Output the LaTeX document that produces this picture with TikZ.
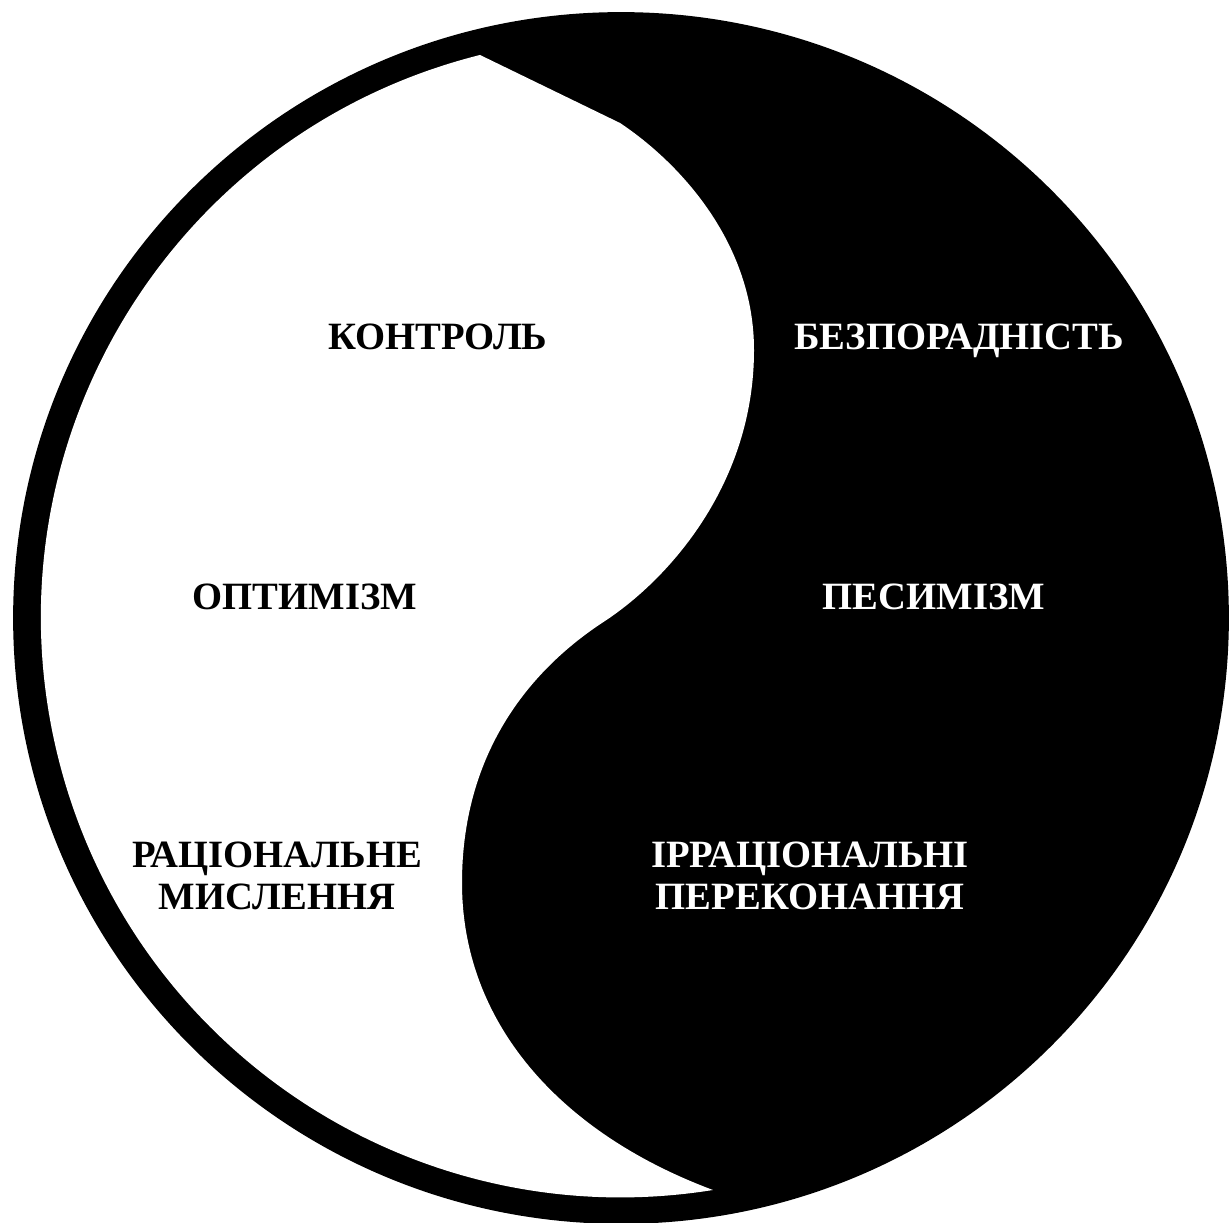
\documentclass[tikz,border=0pt]{standalone}
\usepackage{fontspec}
\setmainfont{Liberation Serif}

\tikzset{
  darklabel/.style={text=black,font=\bfseries\fontsize{22}{24}\selectfont,align=center,anchor=base,inner sep=0pt},
  lightlabel/.style={darklabel,text=white}
}

\begin{document}
\begin{tikzpicture}[x=0.02cm,y=0.02cm]
  \fill[white] (0,0) rectangle (1231,1223);
  \useasboundingbox (0,0) rectangle (1231,1223);

  % outer disk (ring and dark half)
  \fill[black] (621,605) ellipse [x radius=12.16cm, y radius=12.12cm];
  % light half
  \fill[white] (480,1168) arc [start angle=104.06, end angle=279.14, radius=11.6cm]
    .. controls (560,90) and (462,200) .. (462,340)
    .. controls (462,480) and (540,560) .. (605,602)
    .. controls (670,645) and (754,740) .. (754,873)
    .. controls (754,980) and (680,1060) .. (620,1100)
    -- cycle;

  \node[darklabel] (control) at (438,873) {КОНТРОЛЬ};
  \node[lightlabel] (helpless) at (959,873) {БЕЗПОРАДНІСТЬ};
  \node[darklabel] (optimism) at (305,613) {ОПТИМІЗМ};
  \node[lightlabel] (pessimism) at (934,613) {ПЕСИМІЗМ};
  \node[darklabel] (rational) at (277,313) {РАЦІОНАЛЬНЕ\\МИСЛЕННЯ};
  \node[lightlabel] (irrational) at (810,313) {ІРРАЦІОНАЛЬНІ\\ПЕРЕКОНАННЯ};
\end{tikzpicture}
\end{document}
